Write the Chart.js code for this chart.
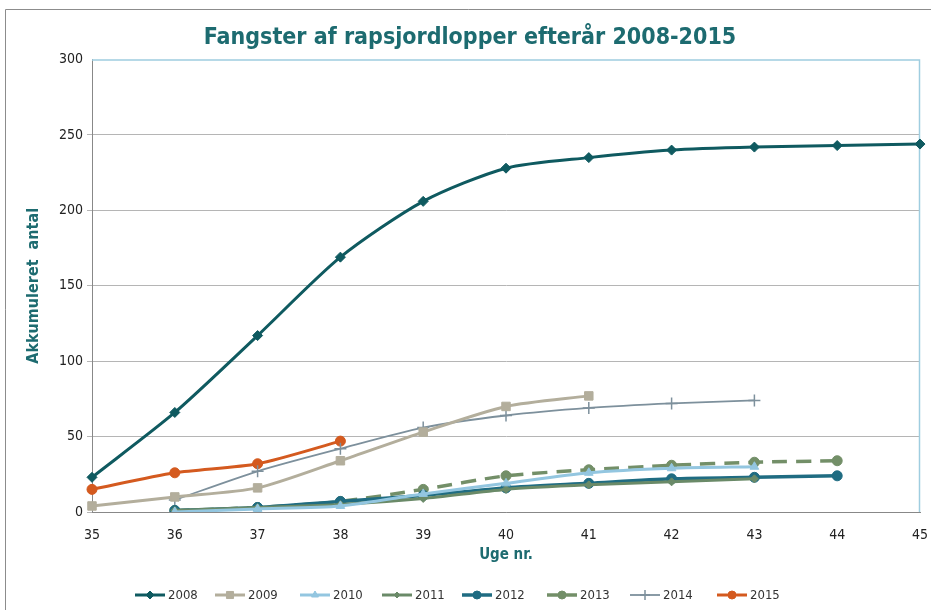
<!DOCTYPE html>
<html>
<head>
<meta charset="utf-8">
<script src="https://cdn.jsdelivr.net/npm/chart.js@4/dist/chart.umd.min.js"></script>
<style>
  html, body { margin: 0; padding: 0; background: #fff; }
  #wrap { position: relative; width: 931px; height: 610px; }
</style>
</head>
<body>
<div id="wrap"><canvas id="chart" width="931" height="610"></canvas></div>
<script>
const FONT = "'Liberation Sans Narrow', 'DejaVu Sans Condensed', 'Liberation Sans', Arial, sans-serif";

// uge nr. (x-akse)
const weeks = [35, 36, 37, 38, 39, 40, 41, 42, 43, 44, 45];
const yTicks = [0, 50, 100, 150, 200, 250, 300];

// akkumuleret antal pr. år
const y2008 = [23, 66, 117, 169, 206, 228, 235, 240, 242, 243, 244];
const y2009 = [4, 10, 16, 34, 53, 70, 77, null, null, null, null];
const y2010 = [null, 0, 2, 4, 12, 19, 26, 29, 30, null, null];
const y2011 = [null, 1, 3, 5, 9, 15, 18, 20, 22, null, null];
const y2012 = [null, 1, 3, 7, 11, 16, 19, 22, 23, 24, null];
const y2013 = [null, 1, 3, 7, 15, 24, 28, 31, 33, 34, null];
const y2014 = [null, 8, 27, 42, 56, 64, 69, 72, 74, null, null];
const y2015 = [15, 26, 32, 47, null, null, null, null, null, null, null];

const series = [
  { label: '2008', data: y2008, color: '#0f5a60', style: 'rectRot', r: 5, w: 3 },
  { label: '2009', data: y2009, color: '#b3ae9c', style: 'rect', r: 6, w: 3 },
  { label: '2010', data: y2010, color: '#93c6e0', style: 'triangle', r: 5, w: 3 },
  { label: '2011', data: y2011, color: '#6a8a68', style: 'rectRot', r: 4, w: 3 },
  { label: '2012', data: y2012, color: '#1f6c82', style: 'circle', r: 5, w: 3.5 },
  { label: '2013', data: y2013, color: '#738f68', style: 'circle', r: 5, w: 3.5, dash: [15, 9] },
  { label: '2014', data: y2014, color: '#7d909c', style: 'cross', r: 6, w: 1.8 },
  { label: '2015', data: y2015, color: '#d45a1f', style: 'circle', r: 5, w: 3 }
];

// ramme + plotkant
const framePlugin = {
  id: 'frame',
  beforeDraw(chart) {
    const ctx = chart.ctx;
    ctx.save();
    ctx.fillStyle = '#fff';
    ctx.fillRect(0, 0, chart.width, chart.height);
    ctx.strokeStyle = '#8c8c8c';
    ctx.lineWidth = 1;
    ctx.beginPath();
    ctx.moveTo(5.5, chart.height);
    ctx.lineTo(5.5, 9.5);
    ctx.lineTo(chart.width, 9.5);
    ctx.stroke();
    ctx.restore();
  },
  beforeDatasetsDraw(chart) {
    const { ctx, chartArea: a } = chart;
    ctx.save();
    ctx.strokeStyle = '#9fcde0';
    ctx.lineWidth = 1.5;
    ctx.beginPath();
    ctx.moveTo(a.left, a.top + 0.5);
    ctx.lineTo(a.right - 0.5, a.top + 0.5);
    ctx.lineTo(a.right - 0.5, a.bottom);
    ctx.stroke();
    ctx.restore();
  }
};

// forklaring med linje + markør
const legendPlugin = {
  id: 'lineLegend',
  afterDraw(chart) {
    const ctx = chart.ctx;
    const y = 595;
    const xs = [135, 215, 300, 382, 462, 547, 630, 717];
    ctx.save();
    ctx.font = '13px ' + FONT;
    ctx.textBaseline = 'middle';
    chart.data.datasets.forEach((ds, i) => {
      const x = xs[i];
      ctx.strokeStyle = ds.borderColor;
      ctx.fillStyle = ds.borderColor;
      ctx.lineWidth = ds.borderWidth;
      ctx.setLineDash([]);
      ctx.beginPath();
      ctx.moveTo(x, y);
      ctx.lineTo(x + 30, y);
      ctx.stroke();
      ctx.lineWidth = ds.pointStyle === 'cross' ? 1.5 : 1;
      Chart.helpers.drawPoint(ctx, {
        pointStyle: ds.pointStyle, radius: ds.pointRadius - 1,
        borderWidth: ctx.lineWidth, rotation: 0
      }, x + 15, y);
      ctx.fillStyle = '#333';
      ctx.fillText(ds.label, x + 33, y + 1);
    });
    ctx.restore();
  }
};

new Chart(document.getElementById('chart'), {
  type: 'line',
  data: {
    labels: weeks,
    datasets: series.map(s => ({
      label: s.label,
      data: s.data,
      borderColor: s.color,
      backgroundColor: s.color,
      pointBackgroundColor: s.color,
      pointBorderColor: s.color,
      borderWidth: s.w,
      borderDash: s.dash || [],
      pointStyle: s.style,
      pointRadius: s.r,
      pointBorderWidth: s.style === 'cross' ? 1.5 : 1,
      tension: 0.25,
      fill: false
    }))
  },
  options: {
    responsive: false,
    animation: false,
    layout: { padding: { left: 20, right: 11, top: 0, bottom: 40 } },
    plugins: {
      legend: { display: false },
      tooltip: { enabled: false },
      title: {
        display: true,
        text: 'Fangster af rapsjordlopper efterår 2008-2015',
        color: '#1d6b70',
        font: { family: FONT, size: 23, weight: 'bold' },
        padding: { top: 24, bottom: 8 }
      }
    },
    scales: {
      x: {
        type: 'category',
        offset: false,
        grid: { display: false, drawTicks: true, tickLength: 6, color: '#888' },
        border: { display: true, color: '#888', width: 1 },
        ticks: { color: '#222', font: { family: FONT, size: 14 }, padding: 9, maxRotation: 0 },
        title: {
          display: true, text: 'Uge nr.', color: '#1d6b70',
          font: { family: FONT, size: 15, weight: 'bold' }, padding: { top: 0, bottom: 6 }
        },
        afterFit(scale) { scale.height = 58; scale.paddingRight = 0; scale.paddingLeft = 0; }
      },
      y: {
        min: 0, max: 300,
        afterBuildTicks(scale) { scale.ticks = yTicks.map(v => ({ value: v })); },
        grid: { color: ctx => ctx.tick && ctx.tick.value === 300 ? 'rgba(0,0,0,0)' : '#b5b5b5', tickLength: 5, drawTicks: true },
        border: { display: true, color: '#888', width: 1 },
        ticks: { color: '#222', font: { family: FONT, size: 14 }, padding: 4 },
        title: {
          display: true, text: 'Akkumuleret  antal', color: '#1d6b70',
          font: { family: FONT, size: 16, weight: 'bold' }, padding: { top: 4, bottom: 10 }
        },
        afterFit(scale) { scale.width = 72; }
      }
    }
  },
  plugins: [framePlugin, legendPlugin]
});
</script>
</body>
</html>
